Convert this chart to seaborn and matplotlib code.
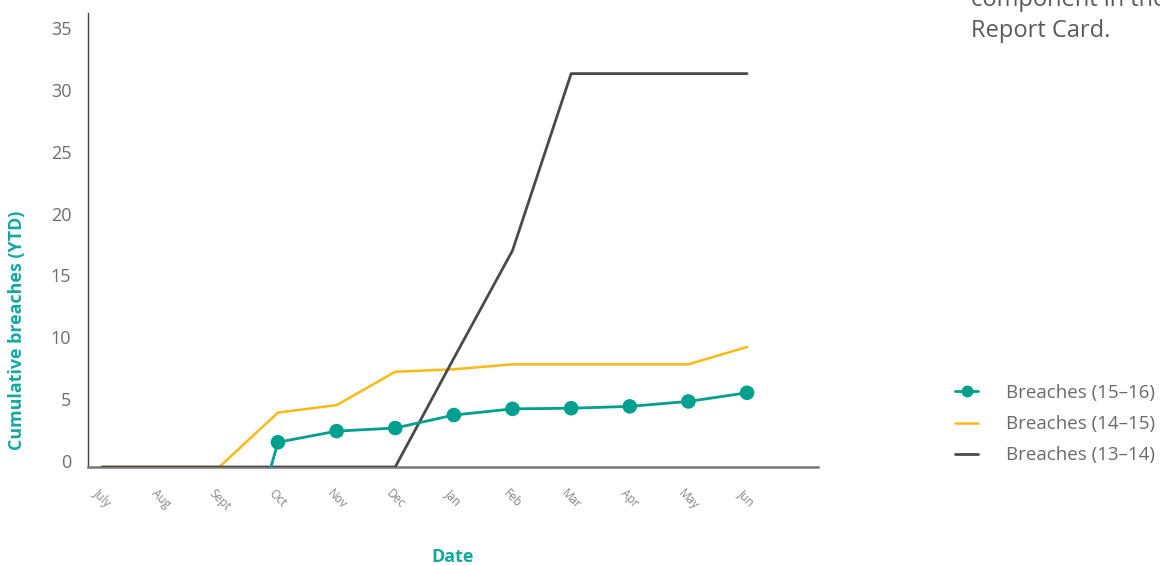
import matplotlib
matplotlib.use("Agg")
import matplotlib.pyplot as plt
import matplotlib.transforms as mtransforms
from matplotlib.lines import Line2D
import seaborn as sns
import pandas as pd

# Monthly cumulative breaches, year to date
months = ["July", "Aug", "Sept", "Oct", "Nov", "Dec", "Jan", "Feb", "Mar", "Apr", "May", "Jun"]
breaches_13_14 = [0, 0, 0, 0, 0, 0, 8.8, 17.5, 31.8, 31.8, 31.8, 31.8]
breaches_14_15 = [0, 0, 0, 4.4, 5.0, 7.7, 7.9, 8.3, 8.3, 8.3, 8.3, 9.7]
# 15-16 series begins in October; its first segment rises from zero just before it
breaches_15_16_x = [2.88, 3, 4, 5, 6, 7, 8, 9, 10, 11]
breaches_15_16 = [0, 2.0, 2.9, 3.15, 4.2, 4.7, 4.75, 4.9, 5.3, 6.0]
y_ticks = [0, 5, 10, 15, 20, 25, 30, 35]
legend_labels = ["Breaches (15\u201316)", "Breaches (14\u201315)", "Breaches (13\u201314)"]

TEAL = "#00A08F"
TEAL_TXT = "#12A9A0"
YELLOW = "#FDB913"
GREY = "#4A4A4A"
TICK_GREY = "#6E6E6E"

sns.set_theme(style="white")
plt.rcParams["font.family"] = ["Open Sans", "DejaVu Sans"]

fig = plt.figure(figsize=(11.6, 5.65), dpi=100)
ax = fig.add_axes([88 / 1160, 1 - 467 / 565, (818 - 88) / 1160, (467 - 13) / 565])

x_idx = list(range(len(months)))
df_13 = pd.DataFrame({"m": x_idx, "v": breaches_13_14})
df_14 = pd.DataFrame({"m": x_idx, "v": breaches_14_15})
df_15 = pd.DataFrame({"m": breaches_15_16_x, "v": breaches_15_16})

sns.lineplot(data=df_14, x="m", y="v", ax=ax, color=YELLOW, linewidth=1.8, zorder=3)
sns.lineplot(data=df_13, x="m", y="v", ax=ax, color=GREY, linewidth=2.0, zorder=4)
sns.lineplot(data=df_15, x="m", y="v", ax=ax, color=TEAL, linewidth=2.0, zorder=5)
sns.scatterplot(data=df_15.iloc[1:], x="m", y="v", ax=ax, color=TEAL, s=110,
                edgecolor="none", zorder=6)

ax.set_xlim(-0.24, 12.21)
ax.set_ylim(0, 36.7)
ax.set_xticks(x_idx)
ax.set_xticklabels(months, rotation=-45, ha="center", va="top",
                   fontsize=8.5, color="#858585")
ax.set_yticks(y_ticks)
ax.set_yticklabels([str(t) for t in y_ticks], fontsize=13, color=TICK_GREY)
ax.tick_params(axis="x", length=0, pad=14)
ax.tick_params(axis="y", length=0, pad=12)

# nudge the value labels slightly upward
offset = mtransforms.ScaledTranslation(0, 0.06, fig.dpi_scale_trans)
for lab in ax.get_yticklabels():
    lab.set_transform(lab.get_transform() + offset)

for s in ("top", "right"):
    ax.spines[s].set_visible(False)
ax.spines["left"].set_color("#444444")
ax.spines["left"].set_linewidth(1.0)
ax.spines["bottom"].set_color("#7A7A7A")
ax.spines["bottom"].set_linewidth(1.8)

ax.set_xlabel("Date", fontsize=13, fontweight="bold", color=TEAL_TXT)
ax.xaxis.set_label_coords(0.5, -0.178)
ax.set_ylabel("Cumulative breaches (YTD)", fontsize=12.9, fontweight="bold", color=TEAL_TXT)
ax.yaxis.set_label_coords(-0.085, 0.30)

handles = [
    Line2D([], [], color=TEAL, linewidth=2.0, marker="o", markersize=7.5),
    Line2D([], [], color=YELLOW, linewidth=1.8),
    Line2D([], [], color=GREY, linewidth=2.0),
]
fig.legend(handles, legend_labels, loc="upper left", bbox_to_anchor=(955 / 1160, 1 - 384 / 565),
           frameon=False, fontsize=13.5, labelcolor="#6A6A6A", handlelength=1.25,
           handletextpad=1.45, labelspacing=0.7, borderpad=0, borderaxespad=0)

fig.text(971 / 1160, 1 - 6 / 565, "component in the", fontsize=17, color="#5A5A5A",
         ha="left", va="baseline")
fig.text(971 / 1160, 1 - 37 / 565, "Report Card.", fontsize=17, color="#5A5A5A",
         ha="left", va="baseline")

fig.savefig("out.png", dpi=100, facecolor="white")
